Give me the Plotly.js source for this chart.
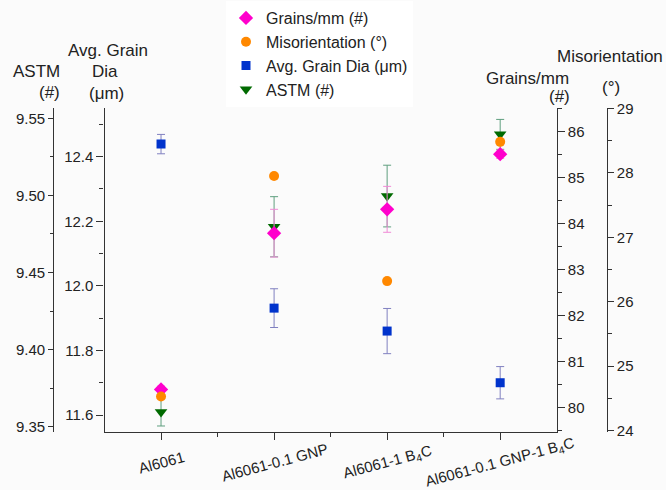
<!DOCTYPE html>
<html>
<head>
<meta charset="utf-8">
<script src="https://cdn.plot.ly/plotly-3.0.1.min.js"></script>
<style>html,body{margin:0;padding:0;background:#fbfbfb;}#chart{width:666px;height:490px;}</style>
</head>
<body>
<div id="chart"></div>
<script>
const categories = ['Al6061', 'Al6061-0.1 GNP', 'Al6061-1 B<sub>4</sub>C', 'Al6061-0.1 GNP-1 B<sub>4</sub>C'];
const grainsPerMm = [80.39, 83.79, 84.31, 85.51];
const grainsPerMmErr = [0.07, 0.52, 0.50, 0.09];
const misorientation = [24.53, 27.95, 26.32, 28.48];
const avgGrainDia = [12.439, 11.931, 11.860, 11.700];
const avgGrainDiaErr = [0.030, 0.060, 0.070, 0.050];
const astm = [9.3595, 9.4797, 9.4996, 9.5396];
const astmErr = [0.009, 0.0195, 0.020, 0.0097];

const xIdx = categories.map((c, i) => i);

const W = 666, H = 490;
const plotTop = 108, plotBottom = 432;
const px = v => v / W;
const py = v => (plotBottom - v) / (plotBottom - plotTop);

const FONT = 'Liberation Sans, Arial, sans-serif';
const TXT = '#222';
const LINE = '#333';

const traces = [
  {
    name: 'ASTM (#)', x: xIdx, y: astm, yaxis: 'y', type: 'scatter', mode: 'markers',
    legendrank: 4,
    marker: {symbol: 'triangle-down', size: 11, color: '#006a00'},
    error_y: {type: 'data', array: astmErr, visible: true, color: '#5f9f7f', thickness: 1, width: 4}
  },
  {
    name: 'Avg. Grain Dia (\u03bcm)', x: xIdx, y: avgGrainDia, yaxis: 'y2', type: 'scatter', mode: 'markers',
    legendrank: 3,
    marker: {symbol: 'square', size: 9, color: '#0033cc'},
    error_y: {type: 'data', array: avgGrainDiaErr, visible: true, color: '#8080c0', thickness: 1, width: 4}
  },
  {
    name: 'Grains/mm (#)', x: xIdx, y: grainsPerMm, yaxis: 'y3', type: 'scatter', mode: 'markers',
    legendrank: 1,
    marker: {symbol: 'diamond', size: 11, color: '#ff00cc'},
    error_y: {type: 'data', array: grainsPerMmErr, visible: true, color: '#f08ad6', thickness: 1, width: 4}
  },
  {
    name: 'Misorientation (\u00b0)', x: xIdx, y: misorientation, yaxis: 'y4', type: 'scatter', mode: 'markers',
    legendrank: 2,
    marker: {symbol: 'circle', size: 10, color: '#ff8800'}
  }
];

const tickFont = {family: FONT, size: 15, color: TXT};
const titleFont = {family: FONT, size: 17, color: TXT};

const commonY = {
  showgrid: false, zeroline: false, showline: true, linecolor: LINE, linewidth: 1.3,
  ticks: 'outside', tickcolor: LINE, tickwidth: 1.3, tickfont: tickFont
};

const annotations = [];
categories.forEach((c, i) => {
  annotations.push({
    text: c, x: i, xref: 'x', y: py(462), yref: 'paper',
    xanchor: 'center', yanchor: 'middle', textangle: -15, showarrow: false, font: tickFont
  });
});
function lab(text, x, y, xanchor) {
  annotations.push({text: text, x: px(x), xref: 'paper', y: py(y), yref: 'paper',
    xanchor: xanchor, yanchor: 'middle', showarrow: false, font: titleFont});
}
lab('ASTM', 62, 72, 'right');
lab('(#)', 62, 92, 'right');
lab('Avg. Grain', 108, 50, 'center');
lab('Dia', 105, 72, 'center');
lab('(\u03bcm)', 107, 93, 'center');
lab('Grains/mm', 571, 78, 'right');
lab('(#)', 572, 96, 'right');
lab('Misorientation', 610, 57, 'center');
lab('(\u00b0)', 611, 88, 'center');

const layout = {
  width: W, height: H,
  margin: {l: 0, r: 0, t: plotTop, b: H - plotBottom},
  paper_bgcolor: '#fbfbfb', plot_bgcolor: '#fbfbfb',
  font: {family: FONT, color: TXT},
  showlegend: true,
  legend: {
    x: px(226), xanchor: 'left', y: py(1), yanchor: 'top',
    font: {family: FONT, size: 16, color: TXT}, bgcolor: '#ffffff',
    tracegroupgap: 0, itemwidth: 30
  },
  xaxis: {
    domain: [px(104.5), px(556.7)], range: [-0.5, 3.5], anchor: 'y',
    tickmode: 'array', tickvals: xIdx, showticklabels: false,
    ticks: 'outside', ticklen: 7, tickwidth: 1.3, tickcolor: LINE,
    minor: {tickmode: 'array', tickvals: [0.5, 1.5, 2.5], ticks: 'outside', ticklen: 4, tickwidth: 1.3, tickcolor: LINE},
    showline: true, linecolor: LINE, linewidth: 1.3, showgrid: false, zeroline: false
  },
  xaxis2: {
    domain: [px(104.5), px(556.7)], range: [-0.5, 3.5], overlaying: 'x', side: 'top', anchor: 'y',
    tickmode: 'array', tickvals: xIdx, showticklabels: false,
    ticks: 'inside', ticklen: 6, tickwidth: 1.3, tickcolor: LINE,
    minor: {tickmode: 'array', tickvals: [0.5, 1.5, 2.5], ticks: 'inside', ticklen: 3, tickwidth: 1.3, tickcolor: LINE},
    showline: true, linecolor: LINE, linewidth: 1.3, showgrid: false, zeroline: false
  },
  yaxis: Object.assign({}, commonY, {
    anchor: 'free', position: px(53.3), side: 'left',
    range: [9.3466, 9.5567], tick0: 9.35, dtick: 0.05, tickformat: '.2f', ticklen: 5,
    minor: {dtick: 0.025, ticks: 'outside', ticklen: 3, tickwidth: 1.3, tickcolor: LINE}
  }),
  yaxis2: Object.assign({}, commonY, {
    overlaying: 'y', anchor: 'x', side: 'left',
    range: [11.5474, 12.5508], tick0: 11.6, dtick: 0.2, tickformat: '.1f', ticklen: 7,
    minor: {dtick: 0.1, ticks: 'outside', ticklen: 4, tickwidth: 1.3, tickcolor: LINE}
  }),
  yaxis3: Object.assign({}, commonY, {
    overlaying: 'y', anchor: 'x', side: 'right',
    range: [79.462, 86.516], tick0: 80, dtick: 1, ticklen: 7,
    minor: {dtick: 0.5, ticks: 'outside', ticklen: 4, tickwidth: 1.3, tickcolor: LINE}
  }),
  yaxis4: Object.assign({}, commonY, {
    overlaying: 'y', anchor: 'free', position: px(606.7), side: 'right',
    range: [23.98, 29.005], tick0: 24, dtick: 1, ticklen: 6,
    minor: {dtick: 0.5, ticks: 'outside', ticklen: 4, tickwidth: 1.3, tickcolor: LINE}
  }),
  annotations: annotations
};

Plotly.newPlot('chart', traces, layout, {displayModeBar: false, responsive: false});
</script>
</body>
</html>
